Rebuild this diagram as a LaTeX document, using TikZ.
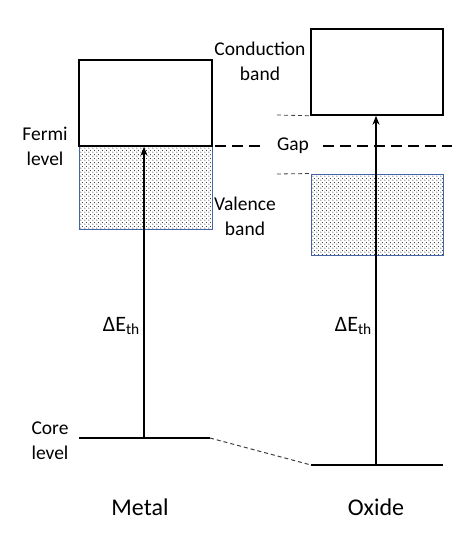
\documentclass[tikz,border=0pt]{standalone}
\usepackage{fontspec}
\setmainfont{Carlito}
\usepackage{tikz}
\usetikzlibrary{arrows.meta,positioning,patterns}
\definecolor{bandblue}{RGB}{68,100,170}
\pgfdeclarepatternformonly{banddots}{\pgfpointorigin}{\pgfpoint{4pt}{4pt}}{\pgfpoint{4pt}{4pt}}{%
    \pgfpathcircle{\pgfpoint{1pt}{1pt}}{0.65pt}%
    \pgfpathcircle{\pgfpoint{3pt}{3pt}}{0.65pt}%
    \pgfusepath{fill}}

\begin{document}
\begin{tikzpicture}[
    x=1pt, y=-1pt,
    every node/.style={font=\fontsize{19.5}{25}\selectfont},
    cband/.style={rectangle, draw=black, line width=1.5pt, fill=white, inner sep=0pt},
    vband/.style={rectangle, draw=bandblue, line width=1pt, pattern=banddots, pattern color=black!80, inner sep=0pt},
    level/.style={line width=2.8pt},
    excite/.style={-{Stealth[length=9pt, width=7pt]}, line width=2.5pt},
    fermi/.style={line width=2.8pt, dash pattern=on 11pt off 6pt},
    guide/.style={line width=0.8pt, dash pattern=on 4pt off 3pt, black!75},
    lbl/.style={align=center, inner sep=0pt},
    side/.style={font=\fontsize{24}{28}\selectfont},
    delta/.style={font=\fontsize{22}{26}\selectfont}
]
    \useasboundingbox (0,0) rectangle (472,541);

    % Bands
    \node[vband, minimum width=133pt, minimum height=83pt] (mvb) at (145.5,187.5) {};
    \node[cband, minimum width=133pt, minimum height=86pt] (mcb) at (145.5,103) {};
    \node[cband, minimum width=132pt, minimum height=86pt] (ocb) at (377,72) {};
    \node[vband, minimum width=132pt, minimum height=81pt] (ovb) at (377,214.5) {};

    % Core levels
    \coordinate (mcl1) at (79,438);
    \coordinate (mcl2) at (210,438);
    \coordinate (ocl1) at (311,465);
    \coordinate (ocl2) at (443,465);
    \coordinate (mcore) at (144,438);
    \coordinate (ocore) at (376,465);
    \draw[level] (mcl1) -- (mcl2);
    \draw[level] (ocl1) -- (ocl2);
    \draw[guide, line width=1pt] (mcl2) -- (ocl1);

    % Fermi level and gap
    \node[lbl] (gap) at (293,146) {Gap};
    \coordinate (fermiL) at (79,146);
    \coordinate (fermiR) at (452,146);
    \draw[fermi] (fermiL) -- (260,146);
    \draw[fermi] (323,146) -- (fermiR);
    \coordinate (cbedge) at (277,115);
    \coordinate (vbedge) at (277,174);
    \draw[guide] (cbedge) -- (ocb.south west);
    \draw[guide] (vbedge) -- (ovb.north west);

    % Excitations
    \draw[excite] (mcore) -- (mcore |- mcb.south);
    \draw[excite] (ocore) -- (ocore |- ocb.south);

    % Labels
    \node[lbl] (fermilbl) at (45,146) {Fermi\\level};
    \node[lbl] (cblbl) at (260,61) {Conduction\\band};
    \node[lbl] (vblbl) at (245,216) {Valence\\band};
    \node[lbl] (corelbl) at (50,441) {Core\\level};
    \node[lbl, delta, anchor=east] (mde) at (140,326) {ΔE\textsubscript{th}};
    \node[lbl, delta, anchor=east] (ode) at (372,326) {ΔE\textsubscript{th}};
    \node[lbl, side] (metal) at (140,507) {Metal};
    \node[lbl, side] (oxide) at (376,507) {Oxide};
\end{tikzpicture}
\end{document}
